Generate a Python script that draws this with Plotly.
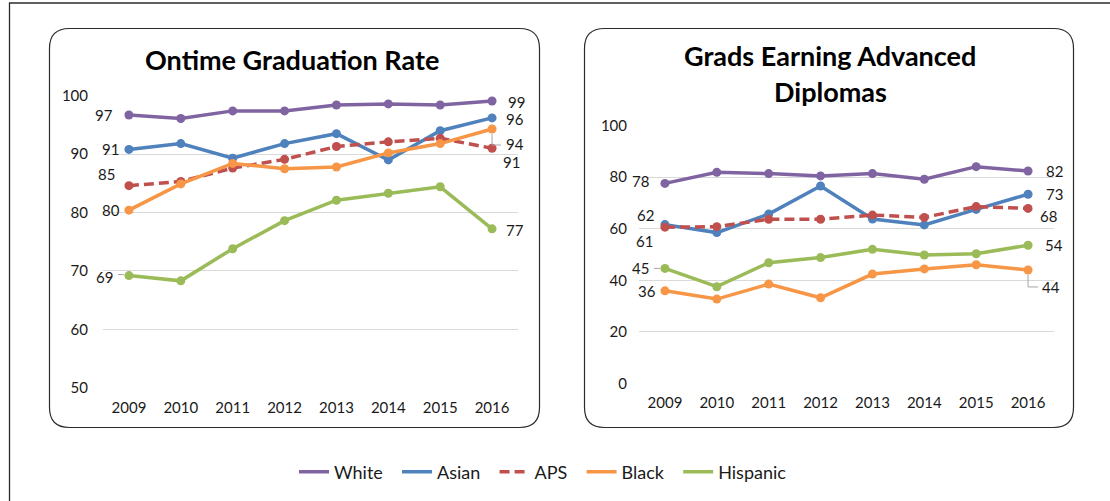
import plotly.graph_objects as go

# ---------------- data ----------------
years = ["2009", "2010", "2011", "2012", "2013", "2014", "2015", "2016"]
series_names = ["White", "Asian", "APS", "Black", "Hispanic"]

grad_white = [96.7, 96.1, 97.4, 97.4, 98.4, 98.6, 98.4, 99.1]
grad_asian = [90.8, 91.8, 89.3, 91.8, 93.5, 89.0, 94.0, 96.2]
grad_aps = [84.6, 85.3, 87.6, 89.1, 91.3, 92.1, 92.7, 91.0]
grad_black = [80.4, 84.9, 88.4, 87.5, 87.8, 90.2, 91.8, 94.3]
grad_hispanic = [69.2, 68.3, 73.8, 78.6, 82.1, 83.3, 84.4, 77.2]

adv_white = [77.6, 81.9, 81.4, 80.5, 81.4, 79.2, 84.1, 82.4]
adv_asian = [61.6, 58.5, 65.7, 76.6, 63.8, 61.5, 67.5, 73.4]
adv_aps = [60.6, 60.8, 63.7, 63.7, 65.3, 64.4, 68.6, 67.9]
adv_black = [35.9, 32.7, 38.5, 33.2, 42.4, 44.4, 46.0, 44.0]
adv_hispanic = [44.6, 37.5, 46.8, 48.8, 52.0, 49.8, 50.3, 53.6]

grad_ticks = [50, 60, 70, 80, 90, 100]
adv_ticks = [0, 20, 40, 60, 80, 100]

titles = ["Ontime Graduation Rate", "Grads Earning Advanced", "Diplomas"]

# ---------------- styling ----------------
W, H = 1110, 501
colors = {"White": "#8064A2", "Asian": "#4F81BD", "APS": "#C0504D",
          "Black": "#F79646", "Hispanic": "#9BBB59"}
dashes = {"APS": "10px,5px"}
FONT = "Lato, 'Open Sans', sans-serif"
TXT = "#1a1a1a"
NB = "\u00a0\u00a0"  # legend spacing pad

grad = dict(zip(series_names, [grad_white, grad_asian, grad_aps, grad_black, grad_hispanic]))
adv = dict(zip(series_names, [adv_white, adv_asian, adv_aps, adv_black, adv_hispanic]))
idx = list(range(len(years)))


def px_x(x):
    return x / W


def px_y(y):
    return 1 - y / H


fig = go.Figure()

for panel, (data, xa, ya) in enumerate([(grad, "x", "y"), (adv, "x2", "y2")]):
    for name in series_names:
        fig.add_trace(go.Scatter(
            x=years, y=data[name], mode="lines",
            name=name + (NB if name != series_names[-1] else ""),
            legendgroup=name, showlegend=(panel == 0),
            line=dict(color=colors[name], width=3.5, dash=dashes.get(name, "solid")),
            xaxis=xa, yaxis=ya, hoverinfo="skip"))
        fig.add_trace(go.Scatter(
            x=years, y=data[name], mode="markers", name=name,
            legendgroup=name, showlegend=False,
            marker=dict(color=colors[name], size=9, line=dict(width=0)),
            xaxis=xa, yaxis=ya, hoverinfo="skip"))

# ---------------- data labels ----------------
# (series, index, dx, dy) pixel offsets of label centre from the marker
left_labels = [("White", 0, -25, 0), ("Asian", 0, -18, 0), ("APS", 0, -22, 12),
               ("Black", 0, -18, 0), ("Hispanic", 0, -24, -1),
               ("White", 7, 24, -1), ("Asian", 7, 23, -1), ("Black", 7, 23, -15),
               ("APS", 7, 19, -14), ("Hispanic", 7, 23, -1)]
right_labels = [("White", 0, -24, 2), ("Asian", 0, -19, 10), ("APS", 0, -20, -14),
                ("Hispanic", 0, -24, 0), ("Black", 0, -18, 0),
                ("White", 7, 26, 0), ("Asian", 7, 26, 0), ("APS", 7, 20, -8),
                ("Hispanic", 7, 26, 0), ("Black", 7, 23, -17)]

annotations = []
for labels, data, xa, ya in [(left_labels, grad, "x", "y"), (right_labels, adv, "x2", "y2")]:
    for name, i, dx, dy in labels:
        v = data[name][i]
        annotations.append(dict(
            x=idx[i], y=v, xref=xa, yref=ya, text=f"{v:.0f}", showarrow=False,
            xshift=dx, yshift=dy, xanchor="center", yanchor="middle", borderpad=0,
            font=dict(family=FONT, size=15, color=TXT)))

# titles
TSIZE = 27
annotations.append(dict(x=px_x(292), y=px_y(59), xref="paper", yref="paper",
                        text=f"<b>{titles[0]}</b>", showarrow=False,
                        xanchor="center", yanchor="middle",
                        font=dict(family=FONT, size=TSIZE, color="#000")))
annotations.append(dict(x=px_x(830), y=px_y(56), xref="paper", yref="paper",
                        text=f"<b>{titles[1]}</b>", showarrow=False,
                        xanchor="center", yanchor="middle",
                        font=dict(family=FONT, size=TSIZE, color="#000")))
annotations.append(dict(x=px_x(830), y=px_y(91), xref="paper", yref="paper",
                        text=f"<b>{titles[2]}</b>", showarrow=False,
                        xanchor="center", yanchor="middle",
                        font=dict(family=FONT, size=TSIZE, color="#000")))

# ---------------- shapes ----------------
def rounded_rect(x0, y0, x1, y1, r):
    def P(x, y):
        return f"{px_x(x):.5f},{px_y(y):.5f}"
    path = (f"M{P(x0 + r, y0)} L{P(x1 - r, y0)} Q{P(x1, y0)} {P(x1, y0 + r)} "
            f"L{P(x1, y1 - r)} Q{P(x1, y1)} {P(x1 - r, y1)} "
            f"L{P(x0 + r, y1)} Q{P(x0, y1)} {P(x0, y1 - r)} "
            f"L{P(x0, y0 + r)} Q{P(x0, y0)} {P(x0 + r, y0)} Z")
    return dict(type="path", xref="paper", yref="paper", path=path,
                line=dict(color="#2b2b2b", width=1.2), layer="below")


shapes = [
    dict(type="rect", xref="paper", yref="paper", x0=px_x(9.5), y0=px_y(515),
         x1=px_x(1125), y1=px_y(3), line=dict(color="#2b2b2b", width=1.3), layer="below"),
    rounded_rect(49.5, 28.5, 539.5, 427.5, 20),
    rounded_rect(584.5, 28.5, 1073.5, 427.5, 20),
]

# leader lines anchored at data points (pixel offsets, y up)
leaders = [("x", "y", grad, "Black", 7, "M0,-5 V-16 H9"),
           ("x", "y", grad, "Hispanic", 0, "M-11,1 H-5"),
           ("x2", "y2", adv, "Hispanic", 0, "M-11,0 H-5"),
           ("x2", "y2", adv, "Black", 7, "M0,-5 V-17 H10")]
for xa, ya, data, name, i, path in leaders:
    shapes.append(dict(type="path", xref=xa, yref=ya, xsizemode="pixel", ysizemode="pixel",
                       xanchor=idx[i], yanchor=data[name][i], path=path,
                       line=dict(color="#a6a6a6", width=1)))

axis_common = dict(showline=False, zeroline=False, ticks="", automargin=False,
                   tickfont=dict(family=FONT, size=15, color=TXT))

fig.update_layout(
    width=W, height=H, margin=dict(l=0, r=0, t=0, b=0, autoexpand=False),
    paper_bgcolor="white", plot_bgcolor="white",
    font=dict(family=FONT, color=TXT),
    xaxis=dict(domain=[px_x(103), px_x(518)], anchor="y", type="category",
               range=[-0.5, 7.5], showgrid=False, ticklabelstandoff=9, **axis_common),
    yaxis=dict(domain=[px_y(387.7), px_y(95.7)], anchor="x", range=[50, 100],
               tickvals=grad_ticks, showgrid=True, gridcolor="#d9d9d9", gridwidth=1,
               ticklabelstandoff=14, **axis_common),
    xaxis2=dict(domain=[px_x(639), px_x(1054)], anchor="y2", type="category",
                range=[-0.5, 7.5], showgrid=False, ticklabelstandoff=9, **axis_common),
    yaxis2=dict(domain=[px_y(383.3), px_y(125.7)], anchor="x2", range=[0, 100],
                tickvals=adv_ticks, showgrid=True, gridcolor="#d9d9d9", gridwidth=1,
                ticklabelstandoff=11, **axis_common),
    legend=dict(orientation="h", x=px_x(543), y=px_y(472), xanchor="center",
                yanchor="middle", font=dict(family=FONT, size=18, color=TXT),
                bgcolor="rgba(0,0,0,0)", itemclick=False, itemdoubleclick=False),
    annotations=annotations,
    shapes=shapes,
    showlegend=True,
)

fig.write_html("out.html", config={"displayModeBar": False},
               post_script="document.body.style.margin='0';document.body.style.overflow='hidden';")
